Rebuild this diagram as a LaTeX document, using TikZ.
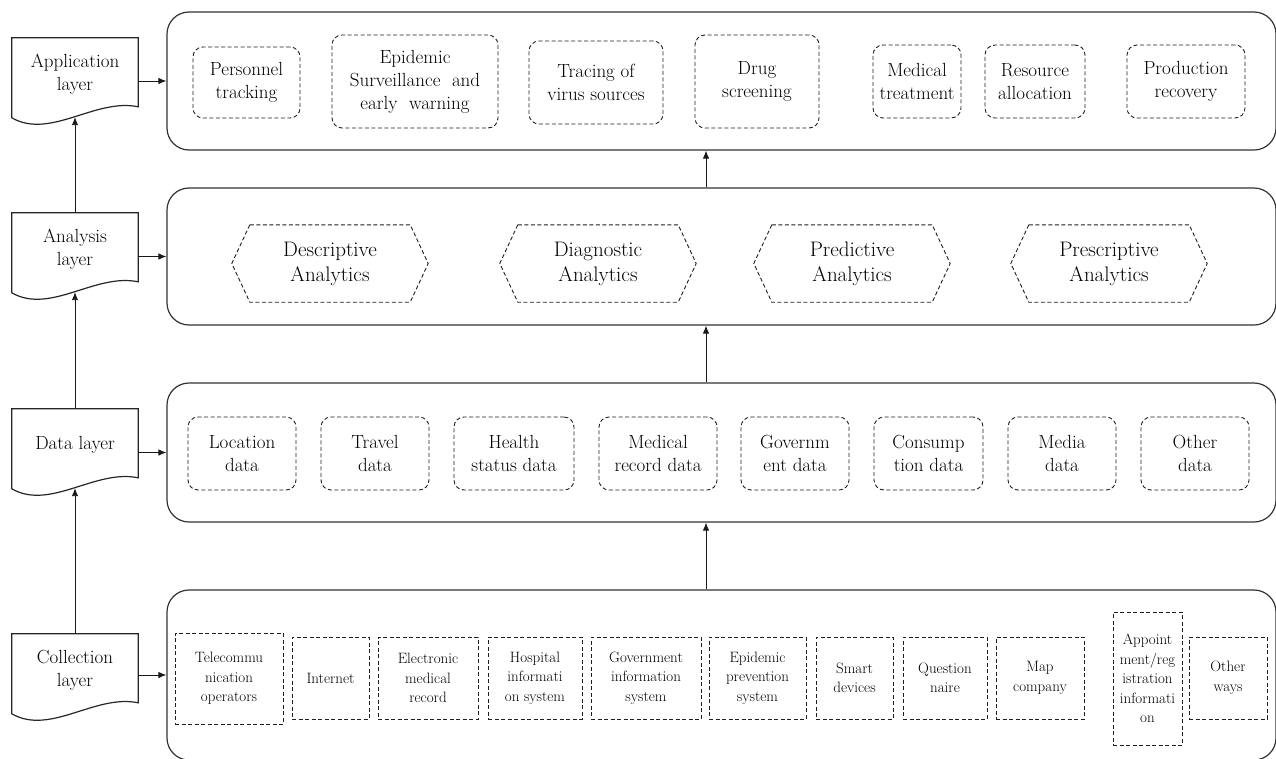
\documentclass[tikz,border=0pt]{standalone}
\usepackage{fontspec}
\usetikzlibrary{arrows.meta,calc}
\newcommand\fsA{\fontsize{19}{23}\selectfont}
\newcommand\fsH{\fontsize{21}{25}\selectfont}
\newcommand\fsC{\fontsize{15}{19.5}\selectfont}
\newcommand\layerdoc[1]{\draw[layerline] (#1.north west) -- (#1.north east) -- ($(#1.north east)+(0,69)$) .. controls ($(#1.north east)+(-43,60)$) and ($(#1.north east)+(-88,102)$) .. ($(#1.north west)+(0,80)$) coordinate[pos=0.5] (#1w) -- cycle;}
\newcommand\hexdraw[1]{\draw[dashline] (#1.north west) -- (#1.north east) -- ($(#1.east)+(18,0)$) -- (#1.south east) -- (#1.south west) -- ($(#1.west)+(-18,0)$) -- cycle;}
\tikzset{
  layerline/.style={draw=black!85, line width=1.2pt},
  layernode/.style={minimum width=126pt, minimum height=72pt, inner sep=0pt, align=center, font=\fsA},
  bigbox/.style={draw=black!80, line width=1.2pt, rounded corners=22pt, inner sep=0pt},
  dashline/.style={draw=black!88, line width=0.9pt, dash pattern=on 4pt off 2.5pt},
  appitem/.style={dashline, rounded corners=10pt, inner sep=0pt, align=center, font=\fsA},
  dataitem/.style={dashline, rounded corners=10pt, inner sep=0pt, align=center, font=\fsA, minimum height=73pt},
  hexnode/.style={inner sep=0pt, align=center, font=\fsH, minimum width=160pt, minimum height=77pt},
  colitem/.style={dashline, inner sep=0pt, align=center, font=\fsC, minimum height=82pt},
  arr/.style={draw=black!90, line width=0.9pt, -{Latex[length=8pt,width=6.5pt]}}
}
\begin{document}
\begin{tikzpicture}[x=1pt,y=-1pt]
\useasboundingbox (0,0) rectangle (1276,758);
% big layer boxes
\node[bigbox, minimum width=1109pt, minimum height=138pt] (appB) at (721.5,81) {};
\node[bigbox, minimum width=1109pt, minimum height=137pt] (anaB) at (721.5,256.5) {};
\node[bigbox, minimum width=1109pt, minimum height=139pt] (datB) at (721.5,452.5) {};
\node[bigbox, minimum width=1109pt, minimum height=170pt] (colB) at (721.5,675) {};
% layer labels
\node[layernode] (appL) at (75,74) {Application\\layer};
\node[layernode] (anaL) at (75,249) {Analysis\\layer};
\node[layernode] (datL) at (75,445) {Data layer};
\node[layernode] (colL) at (75,670) {Collection\\layer};
\layerdoc{appL}
\layerdoc{anaL}
\layerdoc{datL}
\layerdoc{colL}
% application items
\node[appitem, minimum width=107pt, minimum height=71pt] (p1) at (246.5,82.5) {Personnel\\tracking};
\node[appitem, minimum width=166pt, minimum height=93pt] (p2) at (415,81.5) {Epidemic\\Surveillance\ \ and\\early\ \ warning};
\node[appitem, minimum width=134pt, minimum height=83pt] (p3) at (596,82.5) {Tracing of\\virus sources};
\node[appitem, minimum width=124pt, minimum height=93pt] (p4) at (757,81.5) {Drug\\screening};
\node[appitem, minimum width=88pt, minimum height=73pt] (p5) at (917,81.5) {Medical\\treatment};
\node[appitem, minimum width=100pt, minimum height=73pt] (p6) at (1035,81.5) {Resource\\allocation};
\node[appitem, minimum width=118pt, minimum height=73pt] (p7) at (1186,81.5) {Production\\recovery};
% analysis hexagons
\node[hexnode] (h1) at (330,263.5) {Descriptive\\Analytics};
\node[hexnode] (h2) at (598,263.5) {Diagnostic\\Analytics};
\node[hexnode] (h3) at (852,263.5) {Predictive\\Analytics};
\node[hexnode] (h4) at (1109,263.5) {Prescriptive\\Analytics};
\hexdraw{h1}
\hexdraw{h2}
\hexdraw{h3}
\hexdraw{h4}
% data items
\node[dataitem, minimum width=108pt] (d1) at (242,453.5) {Location\\data};
\node[dataitem, minimum width=108pt] (d2) at (375,453.5) {Travel\\data};
\node[dataitem, minimum width=120pt] (d3) at (514,453.5) {Health\\status data};
\node[dataitem, minimum width=118pt] (d4) at (658,453.5) {Medical\\record data};
\node[dataitem, minimum width=108pt] (d5) at (795,453.5) {Governm\\ent data};
\node[dataitem, minimum width=109pt] (d6) at (928.5,453.5) {Consump\\tion data};
\node[dataitem, minimum width=108pt] (d7) at (1062,453.5) {Media\\data};
\node[dataitem, minimum width=108pt] (d8) at (1195,453.5) {Other\\data};
% collection items
\node[colitem, minimum width=108pt, minimum height=91pt] (c1) at (229,678.5) {Telecommu\\nication\\operators};
\node[colitem, minimum width=77pt] (c2) at (330.5,678) {Internet};
\node[colitem, minimum width=100pt] (c3) at (428,678) {Electronic\\medical\\record};
\node[colitem, minimum width=94pt] (c4) at (535,678) {Hospital\\informati\\on system};
\node[colitem, minimum width=110pt] (c5) at (646,678) {Government\\information\\system};
\node[colitem, minimum width=97pt] (c6) at (757.5,678) {Epidemic\\prevention\\system};
\node[colitem, minimum width=77pt] (c7) at (854.5,678) {Smart\\devices};
\node[colitem, minimum width=84pt] (c8) at (945,678) {Question\\naire};
\node[colitem, minimum width=88pt] (c9) at (1040,678) {Map\\company};
\node[colitem, minimum width=69pt, minimum height=133pt] (c10) at (1147.5,678.5) {Appoint\\ment/reg\\istration\\informati\\on};
\node[colitem, minimum width=78pt] (c11) at (1228,678) {Other\\ways};
% connectors
\coordinate (midx) at (706,0);
\draw[arr] (appL.east |- appB.west) -- (appB.west);
\draw[arr] (anaL.east |- anaB.west) -- (anaB.west);
\draw[arr] (datL.east |- datB.west) -- (datB.west);
\draw[arr] (colL.east |- colB.west) -- (colB.west);
\draw[arr] (anaL.north) -- (anaL.north |- appLw);
\draw[arr] (datL.north) -- (datL.north |- anaLw);
\draw[arr] (colL.north) -- (colL.north |- datLw);
\draw[arr] (colB.north -| midx) -- (datB.south -| midx);
\draw[arr] (datB.north -| midx) -- (anaB.south -| midx);
\draw[arr] (anaB.north -| midx) -- (appB.south -| midx);
\end{tikzpicture}
\end{document}
